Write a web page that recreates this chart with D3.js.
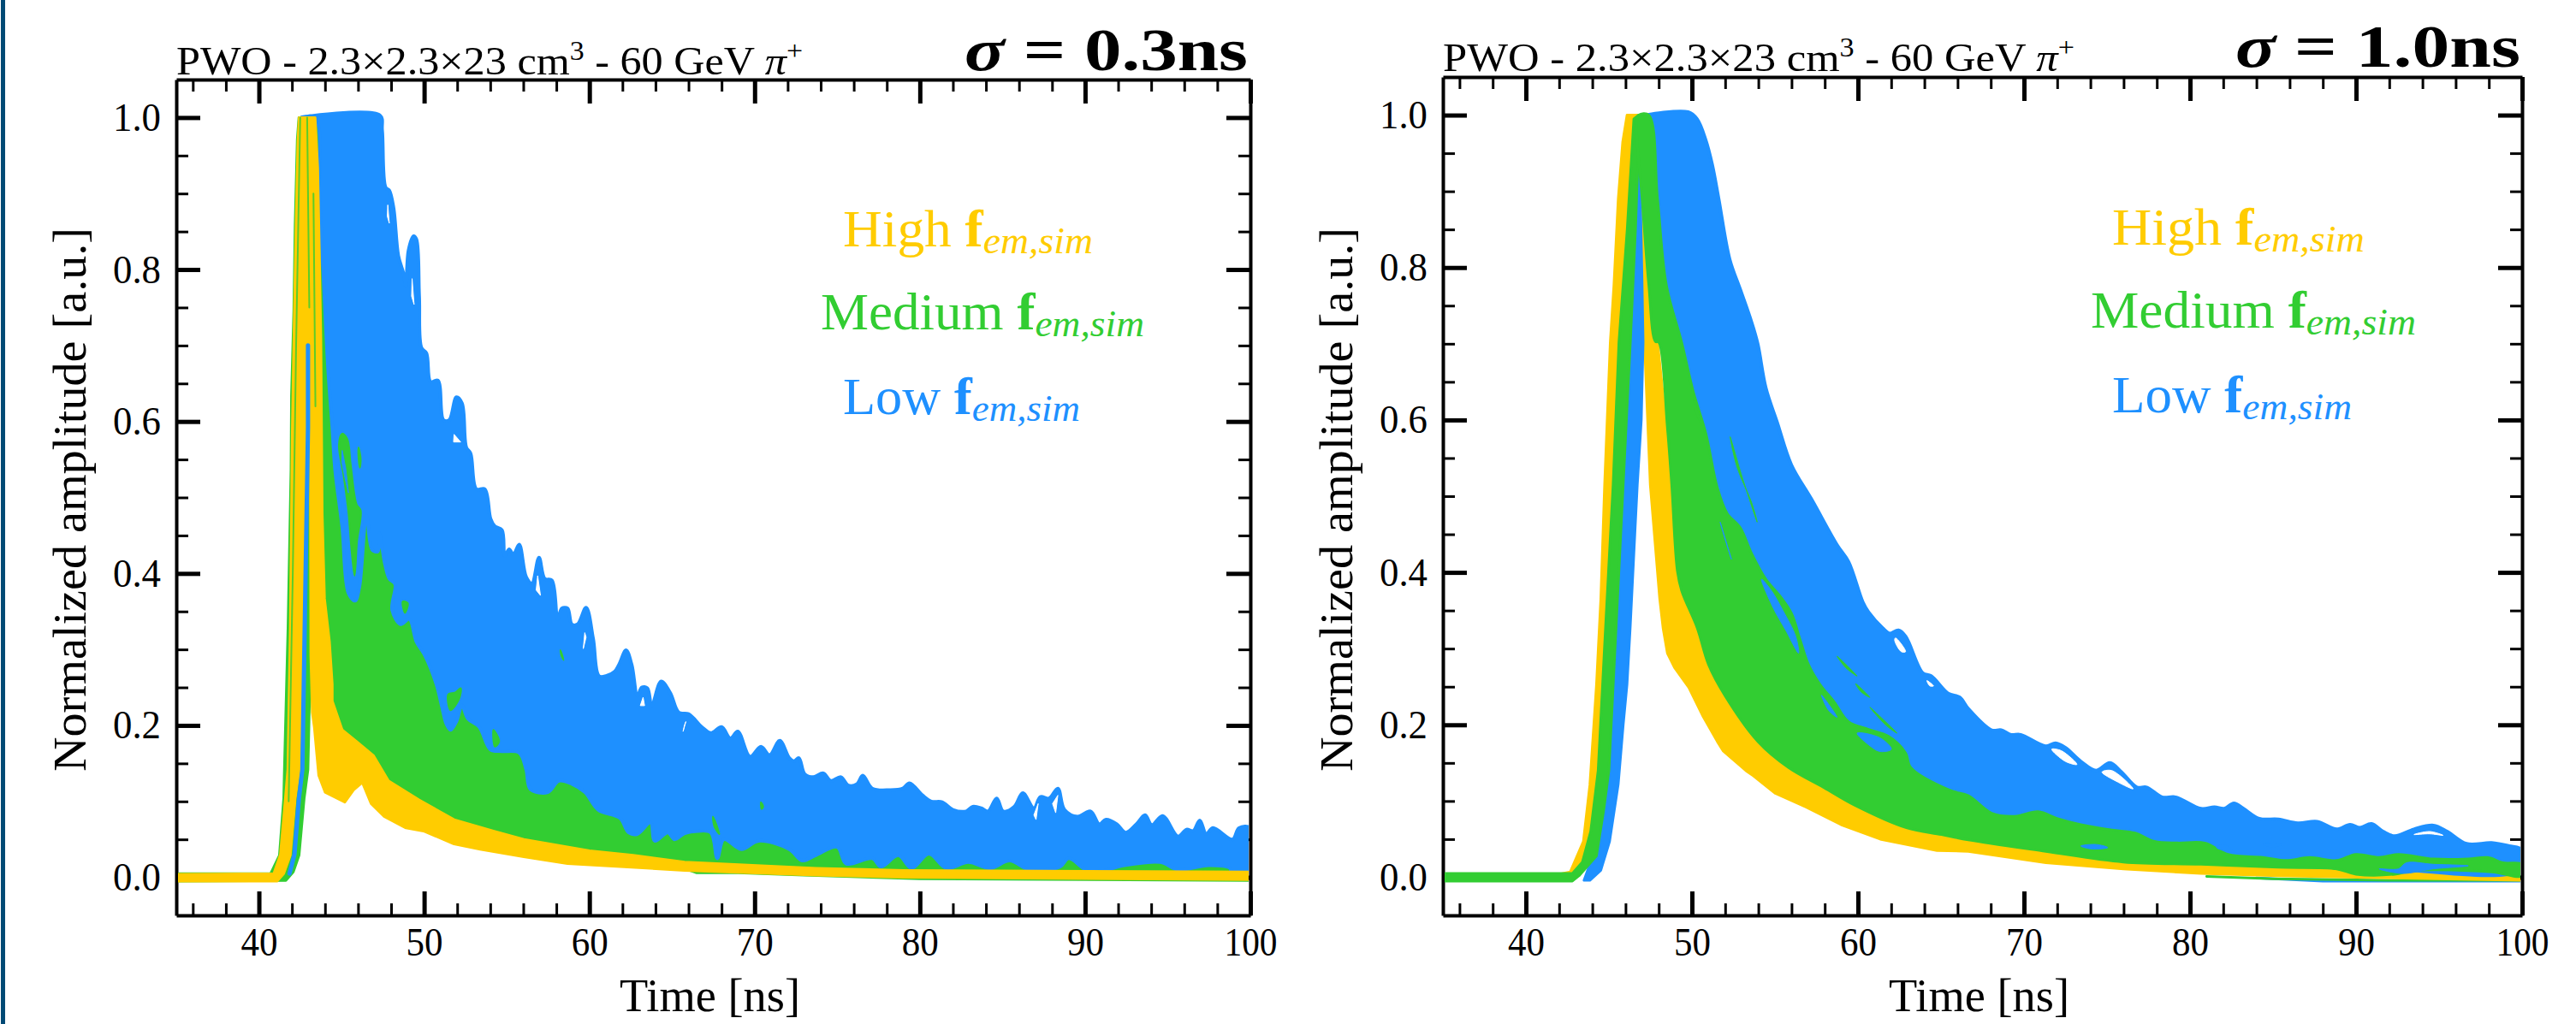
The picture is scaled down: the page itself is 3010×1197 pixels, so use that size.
<!DOCTYPE html>
<html>
<head>
<meta charset="utf-8">
<script src="https://d3js.org/d3.v7.min.js"></script>
<style>
body { margin: 0; background: #fff; }
text { font-family: "Liberation Serif", serif; fill: #000; }
</style>
</head>
<body>
<div id="chart"></div>
<script>
// ticks
var xMajor = [40, 50, 60, 70, 80, 90, 100];
var xMinor = [36, 38, 42, 44, 46, 48, 52, 54, 56, 58, 62, 64, 66, 68, 72, 74, 76, 78, 82, 84, 86, 88, 92, 94, 96, 98];
var yMajor = [0, 0.2, 0.4, 0.6, 0.8, 1.0];
var yMinor = [0.05, 0.1, 0.15, 0.25, 0.3, 0.35, 0.45, 0.5, 0.55, 0.65, 0.7, 0.75, 0.85, 0.9, 0.95];

// envelopes of the waveform bundles, [time ns, amplitude]
// sigma = 0.3 ns
var blueUpper03 = [[42.5,1.0],[47.32,1.003],[47.46,.983],[47.67,.908],[47.89,.904],[48.15,.881],[48.44,.818],[48.75,.795],[48.89,.778],[49.05,.825],[49.36,.844],[49.53,.84],[49.7,.765],[49.84,.697],[50.14,.69],[50.39,.652],[50.83,.654],[51.17,.602],[51.52,.602],[51.95,.632],[52.29,.624],[52.55,.566],[52.81,.558],[53.16,.511],[53.67,.511],[54.02,.472],[54.28,.462],[54.71,.457],[54.88,.423],[55.14,.432],[55.4,.425],[55.75,.438],[56.18,.395],[56.52,.387],[56.95,.421],[57.3,.393],[57.73,.391],[58.08,.34],[58.33,.354],[58.68,.354],[58.94,.333],[59.28,.333],[59.8,.355],[60.23,.314],[60.58,.265],[61.0,.265],[61.53,.271],[61.79,.28],[62.22,.299],[62.56,.28],[62.91,.239],[63.17,.25],[63.51,.249],[63.77,.226],[64.34,.258],[64.89,.243],[65.41,.217],[66.0,.215],[66.8,.198],[67.35,.19],[68.0,.198],[68.53,.183],[68.98,.192],[69.72,.159],[70.38,.172],[70.91,.161],[71.52,.18],[72.1,.157],[72.37,.153],[72.68,.157],[73.03,.136],[73.55,.132],[74.16,.137],[74.61,.127],[75.22,.132],[75.67,.121],[76.2,.123],[76.54,.134],[77.12,.117],[78.18,.115],[78.97,.117],[79.37,.124],[80.16,.108],[80.69,.1],[81.35,.099],[82.0,.089],[82.8,.087],[83.2,.093],[83.72,.091],[84.12,.087],[84.65,.104],[85.05,.087],[85.71,.093],[86.23,.111],[86.9,.091],[87.29,.106],[87.82,.104],[88.35,.117],[88.75,.089],[89.54,.08],[90.33,.087],[90.86,.07],[91.26,.076],[91.92,.07],[92.45,.059],[93.1,.07],[93.63,.082],[94.03,.069],[94.69,.081],[95.62,.054],[96.14,.063],[96.54,.061],[96.94,.075],[97.33,.057],[97.73,.065],[98.92,.05],[99.31,.065],[100,.065]];
var blueLower03 = [[43.4,1.0],[43.66,.896],[43.92,.784],[44.18,.671],[44.44,.592],[44.61,.536],[45.04,.461],[45.42,.374],[45.82,.364],[46.08,.382],[46.51,.476],[46.86,.431],[47.2,.429],[47.29,.453],[47.63,.412],[47.89,.393],[48.24,.386],[48.06,.352],[48.58,.333],[49.1,.34],[49.53,.31],[50.05,.292],[50.74,.254],[51.08,.224],[51.34,.202],[51.6,.194],[51.95,.205],[52.29,.226],[52.64,.209],[53.33,.198],[54.02,.168],[54.71,.166],[55.75,.164],[56.17,.142],[56.43,.116],[57.49,.112],[58.15,.127],[58.94,.123],[59.73,.112],[60.53,.089],[61.85,.078],[62.37,.059],[62.9,.057],[63.7,.072],[63.96,.048],[64.75,.059],[65.15,.05],[65.76,.058],[66.55,.061],[67.35,.059],[67.74,.025],[68.14,.05],[69.2,.037],[70.25,.048],[72.1,.037],[72.89,.022],[73.69,.029],[75.0,.04],[75.54,.018],[77.12,.025],[77.65,.014],[78.7,.029],[79.5,.012],[80.55,.031],[81.6,.012],[82.93,.02],[84.25,.012],[85.44,.022],[86.63,.01],[88.48,.014],[89.0,.025],[90.33,.007],[92.45,.016],[94.56,.02],[95.62,.01],[97.47,.016],[98.79,.012],[98.84,.007],[100,.007]];
var blueStrip03 = [[41.85,.005],[42.15,.03],[42.42,.104],[42.63,.142],[42.8,.367],[42.97,.592],[42.97,.7]];
var greenUpper03 = [[35,.005],[40.71,.005],[41.24,.029],[41.5,.104],[41.54,.142],[41.76,.329],[41.94,.536],[41.97,.634],[42.11,.746],[42.19,.859],[42.32,.971],[42.42,1.0],[43.6,1.0],[46,.6],[50,.4],[60,.2],[70,.1],[80,.06],[90,.04],[100,.03]];
var greenLower03 = [[35,-.005],[41.63,-.004],[42.08,.007],[42.43,.029],[42.74,.104],[42.97,.142],[43.12,.29],[43.16,.59],[43.3,.6],[43.7,.3],[44.5,.14],[46,.13],[47.5,.1],[50,.075],[54,.05],[60,.025],[65.7,.012],[66.5,.006],[69,.006],[73,.003],[80,-.002],[100,-.004]];
var yellowUpper03 = [[35,.004],[40.9,.005],[41.3,.03],[41.6,.104],[41.75,.142],[41.9,.33],[42.02,.59],[42.15,.75],[42.25,.86],[42.36,.97],[42.44,1.0],[43.4,1.0],[43.56,.934],[43.66,.821],[43.75,.709],[43.83,.479],[43.97,.367],[44.27,.31],[44.44,.254],[44.44,.232],[45.04,.194],[45.9,.179],[46.94,.16],[47.84,.127],[49.69,.102],[51.81,.076],[54.19,.061],[56.03,.05],[60,.035],[62.64,.029],[65.76,.02],[73.7,.012],[79,.009],[100,.007]];
var yellowLower03 = [[35,-.005],[41.1,-.005],[41.5,.005],[41.9,.029],[42.2,.104],[42.45,.142],[42.71,.442],[42.89,.56],[43.0,.709],[43.11,.59],[43.14,.292],[43.23,.217],[43.35,.198],[43.62,.134],[44.01,.112],[45.2,.099],[45.73,.115],[46.26,.125],[46.79,.097],[47.58,.08],[48.9,.065],[49.96,.061],[51.81,.044],[53.39,.037],[56.03,.027],[58.68,.018],[62.1,.014],[65.76,.009],[73.7,.003],[79,0],[100,-.003]];
var greenIslands03 = [
	[[45.04,.584],[45.35,.577],[45.56,.543],[45.91,.491],[46.16,.483],[45.94,.442],[45.79,.397],[45.6,.431],[45.42,.479],[45.13,.528],[44.84,.569]],
	[[46.03,.566],[46.16,.551],[46.11,.539],[46.03,.551]],
	[[48.7,.363],[49.01,.361],[48.84,.348]],
	[[51.46,.241],[51.86,.243],[52.21,.249],[52.12,.235],[51.6,.22]],
	[[54.19,.194],[54.54,.179],[54.28,.172]],
	[[58.25,.299],[58.44,.286],[58.3,.292]],
	[[67.48,.08],[67.87,.057],[67.56,.067]],
	[[70.38,.099],[70.52,.093],[70.42,.09]]
];
var blueIslands03 = [
	[[45.04,.562],[45.25,.539],[45.42,.506],[45.22,.524],[45.01,.547]]
];
var whiteGaps03 = [
	[[47.8,.885],[47.89,.861],[47.77,.87]],
	[[49.27,.788],[49.39,.754],[49.24,.765]],
	[[51.81,.583],[52.21,.573],[51.78,.573]],
	[[59.72,.322],[59.8,.316],[59.63,.301]],
	[[56.87,.397],[57.04,.371],[56.78,.378]],
	[[63.25,.237],[63.34,.226],[63.08,.226]],
	[[65.84,.205],[65.67,.192],[65.75,.2]],
	[[87.16,.097],[87.03,.076],[86.9,.082]],
	[[88.35,.108],[88.22,.085],[88.03,.097]]
];
var greenStreaks03 = [
	[[41.8,.1],[42.05,.4],[42.25,.7],[42.5,1.0]],
	[[43.05,.75],[42.92,1.0]],
	[[43.3,.9],[43.42,.62]]
];

// sigma = 1.0 ns
var blueUpper10 = [[47.2,1.0],[49.77,1.004],[50.3,.995],[50.82,.968],[51.22,.935],[51.61,.89],[52.27,.811],[52.93,.77],[53.58,.729],[53.96,.7],[54.45,.642],[55.13,.597],[55.99,.541],[57.2,.496],[58.74,.436],[59.43,.414],[60.29,.361],[60.63,.348],[61.49,.327],[61.92,.32],[62.44,.324],[62.87,.316],[63.9,.268],[64.41,.264],[65.44,.241],[66.13,.236],[66.65,.221],[68.05,.193],[68.63,.193],[69.22,.187],[69.8,.187],[71.32,.172],[71.9,.176],[72.49,.17],[73.42,.152],[74.35,.14],[75.17,.15],[75.87,.138],[76.8,.118],[77.39,.118],[78.32,.105],[79.14,.105],[80.66,.09],[81.47,.092],[82.06,.09],[82.64,.097],[83.22,.09],[84.16,.077],[85.32,.076],[86.49,.071],[87.66,.073],[88.83,.063],[89.64,.069],[90.23,.065],[90.93,.07],[91.63,.06],[92.33,.054],[93.49,.063],[94.66,.068],[95.49,.06],[96.65,.044],[98.16,.045],[99.21,.041],[100,.036]];
var blueLower10 = [[47.3,1.0],[48.2,.777],[49.5,.59],[51,.45],[53,.35],[56,.22],[60,.12],[66,.07],[72,.055],[80,.03],[90,.015],[100,.01]];
var blueRiseLeft10 = [[43.5,-.004],[44.4,.05],[44.9,.2],[45.3,.365],[45.9,.7],[46.4,.9],[46.82,.991]];
var blueRiseRight10 = [[43.85,-.004],[44.51,.009],[45.04,.047],[45.56,.122],[45.86,.2],[46.09,.253],[46.28,.327],[46.56,.45],[46.71,.515],[46.95,.6],[47.06,.702],[46.98,.8],[46.9,.89]];
var greenRiseLeft10 = [[35,.005],[42.8,.005],[43.4,.02],[43.9,.06],[44.35,.14],[44.8,.33],[45.25,.515],[45.6,.702],[46.1,.85],[46.5,.995],[46.8,1.0]];
var greenRiseRight10 = [[35,-.005],[42.8,-.005],[43.2,.002],[44.25,.028],[44.7,.09],[45,.14],[45.43,.327],[45.86,.515],[46.29,.702],[46.6,.85],[46.8,.97]];
var greenUpper10 = [[46.8,1.0],[47.4,1.0],[47.93,.89],[48.46,.777],[49.38,.702],[50.07,.638],[50.84,.582],[51.53,.511],[52.13,.477],[52.9,.459],[53.59,.425],[54.45,.391],[55.3,.369],[56,.346],[56.51,.312],[57.02,.279],[57.71,.253],[58.57,.23],[59.43,.204],[60.63,.194],[61.83,.185],[62.87,.163],[63.18,.144],[65.55,.114],[66.65,.107],[68.05,.084],[69.45,.08],[70.85,.086],[72.02,.077],[73.42,.069],[75.29,.062],[76.69,.058],[77.85,.047],[79.25,.045],[80.89,.045],[82.29,.03],[84.39,.026],[85.79,.022],[87.19,.026],[88.83,.022],[90,.03],[91.39,.026],[92.56,.03],[94.66,.024],[96.76,.024],[97.93,.026],[98.86,.019],[100,.017]];
var greenLower10 = [[46.67,.991],[47,.89],[47.4,.777],[47.8,.703],[48,.702],[48.52,.59],[48.78,.515],[49.12,.402],[49.38,.376],[50.32,.327],[51,.279],[52,.238],[53.98,.178],[55.82,.144],[57.93,.118],[59.77,.095],[62.92,.065],[65.03,.056],[66.65,.049],[71.32,.034],[75.99,.02],[80.66,.017],[85.32,.013],[88.83,.011],[90,.004],[92.33,.004],[93.49,.009],[98.16,.007],[100,.002]];
var yellowUpper10 = [[42.01,.004],[42.67,.007],[43.46,.047],[43.85,.121],[44.25,.253],[44.51,.365],[44.74,.515],[45.08,.702],[45.3,.777],[45.56,.89],[45.83,.965],[46.09,1.0],[46.75,1.0],[47,.853],[47.4,.777],[47.93,.703],[48.46,.59],[48.78,.515],[49.12,.402],[49.38,.376],[50.32,.327],[51,.279],[52,.238],[53.98,.178],[55.82,.144],[57.93,.118],[59.77,.095],[62.92,.065],[65.03,.056],[66.65,.049],[71.32,.034],[75.99,.02],[80.66,.017],[85.32,.013],[88.83,.011],[90,.004],[92.33,.004],[93.49,.009],[98.16,.007],[100,.002]];
var yellowLower10 = [[42.01,-.003],[43,0],[43.9,.02],[44.7,.2],[46,.5],[47.14,.702],[47.49,.515],[48.06,.365],[48.26,.327],[48.52,.294],[48.95,.275],[49.81,.249],[50.67,.211],[51.53,.178],[51.87,.166],[53.24,.14],[53.71,.133],[55.03,.11],[56.87,.092],[58.98,.069],[61.34,.05],[64.76,.035],[66.65,.034],[71.32,.019],[75.99,.011],[80.66,.005],[85.32,.002],[90,0],[100,-.004]];
var greenFloor10 = [[81,.001],[85,-.002],[92,-.004],[100,-.004]];
var blueFloor10 = [[84,-.001],[88,-.005],[90,-.005],[94,-.005],[100,-.005]];
var blueIslands10 = [
	[[54.19,.391],[54.88,.354],[55.65,.324],[56.42,.294],[56.25,.316],[55.48,.35],[54.79,.376]],
	[[51.7,.466],[52.38,.417],[51.95,.447]],
	[[57.8,.239],[58.74,.21],[58.23,.219]],
	[[59.95,.189],[61.32,.183],[62.01,.168],[61.32,.165],[60.63,.174]],
	[[73.42,.041],[74.35,.043],[75.05,.039],[74.12,.037]],
	[[91.39,.011],[92.56,.011],[93.03,.019],[94.66,.017],[96.76,.015],[94.66,.011],[92.79,.005]],
	[[82.06,.043],[82.76,.032],[81.59,.039]],
	[[84.39,.044],[85.56,.043],[84.86,.039]]
];
var greenIslands10 = [
	[[52.3,.578],[53.07,.522],[53.93,.466],[53.59,.492],[52.73,.537]],
	[[50.07,.631],[50.58,.593],[50.24,.608]],
	[[58.74,.29],[59.94,.264],[59.26,.275]],
	[[59.86,.254],[60.72,.236],[60.2,.243]],
	[[60.72,.223],[62.35,.189],[61.66,.2]]
];
var whiteGaps10 = [
	[[62.26,.314],[62.87,.296],[62.61,.296],[62.21,.311]],
	[[64.15,.258],[64.55,.251],[64.33,.251]],
	[[71.67,.168],[72.25,.166],[73.19,.148],[72.49,.152]],
	[[74.7,.138],[75.29,.14],[76.57,.116],[75.64,.125]],
	[[93.49,.056],[94.43,.06],[95.24,.055],[94.43,.057]]
];

var GOLD = "#ffcc00", LIME = "#32cd32", BLUE = "#1e90ff";

var svg = d3.select("#chart").append("svg")
	.attr("width", 3010)
	.attr("height", 1197)
	.style("display", "block");

svg.append("rect").attr("width", 3010).attr("height", 1197).attr("fill", "#fff");
svg.append("rect").attr("x", 1).attr("width", 5).attr("height", 1197).attr("fill", "#004a75");

function closed(upper, lower) {
	return upper.concat(lower.slice().reverse());
}

function panel(id, left, right, top, bottom, draw, labels) {
	var x = d3.scaleLinear().domain([35, 100]).range([left, right]);
	var y = d3.scaleLinear().domain([-0.05, 1.05]).range([bottom, top]);
	var line = d3.line().x(d => x(d[0])).y(d => y(d[1]));
	var soft = d3.line().x(d => x(d[0])).y(d => y(d[1])).curve(d3.curveCatmullRomClosed.alpha(0.5));
	var g = svg.append("g");

	// axes: major and minor ticks on all four sides, pointing inwards
	function axis(make, scale, major, minor, shift, fmt) {
		var a = g.append("g").attr("transform", shift);
		a.append("g").call(make(scale).tickValues(minor).tickSize(-14).tickFormat(""))
			.call(s => s.select(".domain").remove())
			.call(s => s.selectAll("line").attr("stroke-width", 3));
		var m = a.append("g").call(make(scale).tickValues(major).tickSize(-28).tickSizeOuter(0).tickFormat(fmt));
		m.select(".domain").attr("stroke-width", 4);
		m.selectAll(".tick line").attr("stroke-width", 5);
		return m;
	}
	var xb = axis(d3.axisBottom, x, xMajor, xMinor, "translate(0," + bottom + ")", d3.format("d"));
	xb.selectAll("text").attr("dy", null).attr("y", 47).attr("font-size", 46)
		.attr("textLength", d => d === 100 ? 62 : 43).attr("lengthAdjust", "spacingAndGlyphs");
	axis(d3.axisTop, x, xMajor, xMinor, "translate(0," + top + ")", "").selectAll("text").remove();
	var yl = axis(d3.axisLeft, y, yMajor, yMinor, "translate(" + left + ",0)", d3.format(".1f"));
	yl.selectAll("text").attr("dy", null).attr("y", 15).attr("x", -18).attr("font-size", 46)
		.attr("textLength", 56).attr("lengthAdjust", "spacingAndGlyphs");
	axis(d3.axisRight, y, yMajor, yMinor, "translate(" + right + ",0)", "").selectAll("text").remove();

	// curves sit over the ticks but leave the frame visible
	svg.append("clipPath").attr("id", id).append("rect")
		.attr("x", left + 2).attr("y", top + 2).attr("width", right - left - 4).attr("height", bottom - top - 4);
	var plot = g.append("g").attr("clip-path", "url(#" + id + ")");

	function poly(points, color, sw, round) {
		plot.append("path").attr("d", round ? soft(points) : line(points) + "Z")
			.attr("fill", color).attr("stroke", color)
			.attr("stroke-width", sw === undefined ? 3 : sw).attr("stroke-linejoin", "round");
	}
	function stroke(points, color, sw, op) {
		plot.append("path").attr("d", line(points)).attr("fill", "none")
			.attr("stroke", color).attr("stroke-width", sw).attr("stroke-linecap", "round")
			.attr("stroke-linejoin", "round").attr("opacity", op === undefined ? 1 : op);
	}
	draw(poly, stroke);

	// texts
	var title = g.append("text").attr("x", left).attr("y", labels.titleY).attr("font-size", 46)
		.attr("textLength", labels.titleLen).attr("lengthAdjust", "spacingAndGlyphs");
	title.append("tspan").text("PWO - 2.3×2.3×23 cm");
	title.append("tspan").attr("dy", -17).attr("font-size", 31).text("3");
	title.append("tspan").attr("dy", 17).text(" - 60 GeV ");
	title.append("tspan").attr("font-style", "italic").text("π");
	title.append("tspan").attr("dy", -17).attr("font-size", 31).text("+");

	var sigma = g.append("text").attr("x", labels.sigmaX).attr("y", labels.titleY - 5).attr("font-size", 70)
		.attr("font-weight", "bold").attr("textLength", labels.sigmaLen).attr("lengthAdjust", "spacingAndGlyphs");
	sigma.append("tspan").attr("font-style", "italic").text("σ");
	sigma.append("tspan").text(" = " + labels.sigma);

	labels.legend.forEach(function(l) {
		var t = g.append("text").attr("x", l.x).attr("y", l.y).attr("font-size", 61)
			.attr("textLength", l.len).attr("lengthAdjust", "spacingAndGlyphs").style("fill", l.color);
		t.append("tspan").style("fill", l.color).text(l.name + " ");
		t.append("tspan").style("fill", l.color).attr("font-weight", "bold").text("f");
		t.append("tspan").style("fill", l.color).attr("dy", 8).attr("font-size", 44).attr("font-style", "italic").text("em,sim");
	});

	g.append("text").attr("x", labels.timeX).attr("y", 1182).attr("font-size", 54)
		.attr("textLength", 211).attr("lengthAdjust", "spacingAndGlyphs").text("Time [ns]");
	g.append("text").attr("transform", "translate(" + labels.ampX + ",902) rotate(-90)").attr("font-size", 54)
		.attr("textLength", 636).attr("lengthAdjust", "spacingAndGlyphs").text("Normalized amplitude [a.u.]");
}

panel("clipA", 206, 1461, 93, 1070, function(poly, stroke) {
	poly(closed(greenUpper03, greenLower03), LIME);
	poly(closed(blueUpper03, blueLower03), BLUE, 4, true);
	greenIslands03.forEach(p => poly(p, LIME, 2, true));
	blueIslands03.forEach(p => poly(p, BLUE, 1));
	whiteGaps03.forEach(p => poly(p, "#fff", 1));
	poly(closed(yellowUpper03, yellowLower03), GOLD);
	stroke(blueStrip03, BLUE, 5);
	greenStreaks03.forEach(p => stroke(p, LIME, 2, 0.8));
}, {
	titleY: 87, titleLen: 732, sigma: "0.3ns", sigmaX: 1127, sigmaLen: 331, ampX: 100, timeX: 724,
	legend: [
		{name: "High", color: GOLD, x: 985, y: 288, len: 292},
		{name: "Medium", color: LIME, x: 959, y: 385, len: 378},
		{name: "Low", color: BLUE, x: 985, y: 484, len: 277}
	]
});

panel("clipB", 1686, 2947, 90, 1070, function(poly, stroke) {
	stroke(blueFloor10, BLUE, 3);
	stroke(greenFloor10, LIME, 3);
	poly(closed(yellowUpper10, yellowLower10), GOLD);
	poly(closed(blueRiseRight10, blueRiseLeft10), BLUE);
	poly(closed(blueUpper10, blueLower10), BLUE, 4, true);
	poly(closed(greenRiseLeft10, greenRiseRight10), LIME);
	poly(closed(greenUpper10, greenLower10), LIME, 3, true);
	blueIslands10.forEach(p => poly(p, BLUE, 1, true));
	greenIslands10.forEach(p => poly(p, LIME, 1, true));
	whiteGaps10.forEach(p => poly(p, "#fff", 1, true));
}, {
	titleY: 83, titleLen: 738, sigma: "1.0ns", sigmaX: 2612, sigmaLen: 333, ampX: 1580, timeX: 2207,
	legend: [
		{name: "High", color: GOLD, x: 2468, y: 286, len: 295},
		{name: "Medium", color: LIME, x: 2443, y: 383, len: 380},
		{name: "Low", color: BLUE, x: 2468, y: 482, len: 280}
	]
});
</script>
</body>
</html>
